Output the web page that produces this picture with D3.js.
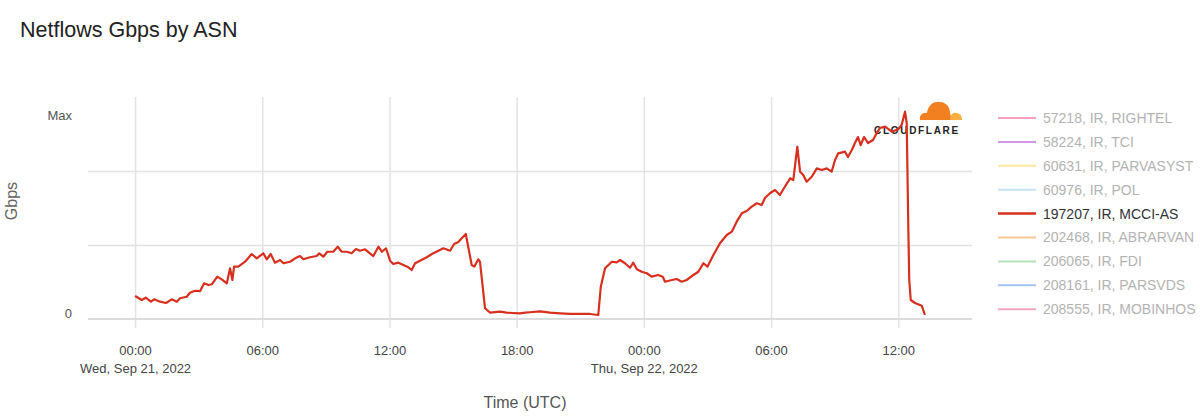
<!DOCTYPE html>
<html>
<head>
<meta charset="utf-8">
<script src="https://cdn.jsdelivr.net/npm/d3@7"></script>
<style>
  body { margin: 0; background: #fff; }
  svg { font-family: "Helvetica Neue", Helvetica, Arial, sans-serif; }
</style>
</head>
<body>
<div id="chart"></div>
<script>
// Netflows Gbps by ASN - traffic for AS197207 (MCCI) over Sep 21-22, 2022

// hours since 2022-09-21 00:00 UTC
const hours = [
  0, 0.32, 0.50, 0.75, 0.90, 1.18, 1.46, 1.73, 1.97, 2.12, 2.44, 2.59, 2.83, 3.07, 3.26, 3.46, 3.62,
  3.88, 4.09, 4.33, 4.48, 4.59, 4.67, 4.87, 5.19, 5.50, 5.74, 6.05, 6.21, 6.40, 6.60, 6.84, 7.00,
  7.31, 7.55, 7.78, 7.94, 8.25, 8.57, 8.69, 8.88, 9.07, 9.35, 9.56, 9.75, 9.99, 10.22, 10.42, 10.61,
  10.85, 11.08, 11.24, 11.48, 11.64, 11.84, 12.03, 12.18, 12.42, 12.66, 12.89, 13.05, 13.21, 13.44,
  13.76, 14.00, 14.31, 14.54, 14.86, 15.05, 15.25, 15.41, 15.60, 15.88, 16.00, 16.19, 16.27, 16.51,
  16.75, 17.22, 17.53, 18.16, 18.40, 18.63, 19.10, 19.58, 20.05, 20.52, 20.99, 21.46, 21.85, 21.97,
  22.17, 22.49, 22.72, 22.88, 23.11, 23.35, 23.50, 23.67, 23.90, 24.14, 24.37, 24.68, 24.89, 25.00,
  25.32, 25.55, 25.79, 26.02, 26.34, 26.57, 26.81, 27.00, 27.28, 27.59, 27.91, 28.15, 28.38, 28.62,
  28.85, 29.09, 29.33, 29.56, 29.72, 29.95, 30.19, 30.42, 30.58, 30.90, 31.05, 31.24, 31.37, 31.52,
  31.68, 31.92, 32.16, 32.39, 32.63, 32.86, 33.02, 33.17, 33.49, 33.63, 33.81, 33.96, 34.10, 34.23,
  34.39, 34.58, 34.81, 34.99, 35.14, 35.38, 35.70, 36.00, 36.16, 36.32, 36.40, 36.48, 36.52, 36.59,
  36.79, 37.11, 37.26
];

// Gbps (relative, axis is only labelled 0 / Max)
const gbps = [
  3.11, 2.57, 2.88, 2.34, 2.66, 2.34, 2.16, 2.66, 2.34, 2.80, 3.01, 3.55, 3.82, 3.78, 4.82, 4.59, 4.69,
  5.72, 5.36, 4.82, 6.85, 5.27, 7.07, 7.07, 7.74, 8.78, 8.20, 8.88, 8.07, 8.78, 7.61, 7.97, 7.53,
  7.74, 8.20, 8.51, 8.07, 8.34, 8.51, 8.88, 8.42, 9.09, 9.09, 9.77, 9.09, 9.09, 8.88, 9.46, 9.23,
  9.42, 8.88, 8.51, 9.77, 9.09, 9.55, 7.88, 7.43, 7.61, 7.30, 6.99, 6.62, 7.53, 7.88,
  8.34, 8.78, 9.23, 9.55, 9.23, 10.14, 10.41, 10.91, 11.49, 7.30, 7.07, 8.07, 7.74, 1.45,
  0.85, 0.99, 0.85, 0.77, 0.85, 0.91, 1.04, 0.85, 0.77, 0.68, 0.68, 0.68, 0.54, 4.36,
  6.85, 7.74, 7.66, 7.97, 7.53, 6.93, 7.61, 6.72, 6.39, 6.18, 5.72, 5.95, 5.72, 5.04,
  5.27, 5.41, 5.04, 5.27, 5.95, 6.39, 7.53, 7.07, 8.65, 10.23, 11.35, 11.80, 13.15, 14.28,
  14.59, 15.18, 15.64, 15.41, 16.39, 16.99, 17.43, 16.76, 17.53, 19.01, 18.78, 23.28, 19.91, 19.46,
  18.55, 19.23, 20.36, 20.14, 20.36, 19.91, 21.49, 22.39, 22.61, 21.89, 22.84, 23.78, 24.59, 23.51,
  24.59, 23.78, 24.19, 25.14, 25.81, 25.99, 25.31, 25.64, 26.22, 28.01, 26.49, 11.62, 5.27, 2.57,
  2.16, 1.80, 0.54
];

const asnNames = [
  "57218, IR, RIGHTEL", "58224, IR, TCI", "60631, IR, PARVASYST", "60976, IR, POL",
  "197207, IR, MCCI-AS", "202468, IR, ABRARVAN", "206065, IR, FDI", "208161, IR, PARSVDS",
  "208555, IR, MOBINHOS"
];
const asnColors = [
  "#f5a3bd", "#cf9be6", "#fde79c", "#c6e3f6", "#d7301f", "#f9c795", "#b7e1b8", "#a9c2f2", "#f4a6bf"
];
const activeAsn = "197207, IR, MCCI-AS";

const start = Date.UTC(2022, 8, 21);
const hourMs = 3600 * 1000;

// Set up dimensions
const margin = { top: 97, right: 228, bottom: 99, left: 88 },
    width = 1200 - margin.left - margin.right,
    height = 418 - margin.top - margin.bottom;

const root = d3.select("#chart")
    .append("svg")
    .attr("width", 1200)
    .attr("height", 418);

// Title
root.append("text")
    .attr("x", 20)
    .attr("y", 37)
    .style("font-size", "21.5px")
    .style("fill", "#222")
    .text("Netflows Gbps by ASN");

const svg = root.append("g")
    .attr("transform", `translate(${margin.left},${margin.top})`);

// Scales
const x = d3.scaleUtc()
    .domain([new Date(start - 2.22 * hourMs), new Date(start + 39.48 * hourMs)])
    .range([0, width]);

const y = d3.scaleLinear()
    .domain([0, 30])
    .range([height, 0]);

// Vertical grid + time labels
const xAxis = svg.append("g")
    .call(d3.axisBottom(x)
        .ticks(d3.utcHour.every(6))
        .tickSize(height + 9)
        .tickPadding(18)
        .tickFormat(d3.utcFormat("%H:%M")));
xAxis.select(".domain").remove();
xAxis.selectAll(".tick line").attr("stroke", "#e3e3e3").attr("stroke-width", 1.5);
xAxis.selectAll(".tick text")
    .style("font-size", "13px")
    .attr("fill", "#444")
    .each(function (d) {
        if (d.getUTCHours() === 0) {
            d3.select(this).append("tspan")
                .attr("x", 0)
                .attr("dy", "1.4em")
                .text(d3.utcFormat("%a, %b %d, %Y")(d));
        }
    });

// Horizontal grid
const yGrid = svg.append("g")
    .call(d3.axisLeft(y).tickValues([10, 20]).tickSize(-width).tickFormat(""));
yGrid.select(".domain").remove();
yGrid.selectAll(".tick line").attr("stroke", "#e3e3e3").attr("stroke-width", 1.5);

// Baseline
svg.append("line")
    .attr("x1", 0).attr("x2", width)
    .attr("y1", y(0)).attr("y2", y(0))
    .attr("stroke", "#dcdcdc")
    .attr("stroke-width", 2);

// Y labels: 0 and Max
const yLabels = svg.append("g")
    .call(d3.axisLeft(y).tickValues([0, 26.8]).tickSize(0).tickPadding(16)
        .tickFormat(d => d === 0 ? "0" : "Max"));
yLabels.select(".domain").remove();
yLabels.selectAll(".tick text")
    .attr("dy", "-0.1em")
    .style("font-size", "13px")
    .attr("fill", "#555");

// Axis titles
svg.append("text")
    .attr("x", -height / 2 + 7)
    .attr("y", -71)
    .attr("text-anchor", "middle")
    .attr("transform", "rotate(-90)")
    .style("font-size", "16px")
    .attr("fill", "#666")
    .text("Gbps");

svg.append("text")
    .attr("x", 437)
    .attr("y", height + 89)
    .attr("text-anchor", "middle")
    .style("font-size", "16px")
    .attr("fill", "#555")
    .text("Time (UTC)");

// Cloudflare logo (watermark, top right of plot)
const logo = svg.append("g").attr("transform", `translate(${width - 98},${4})`);
logo.append("path")
    .attr("d", "M46,19 C45,14 49,11 53,12 C54,5 59,0 66,1 C72,1 76,6 76,12 L78,19 Z")
    .attr("fill", "#f38020");
logo.append("path")
    .attr("d", "M76,19 C76,14 79,11 82,12 C86,12 88,15 88,19 Z")
    .attr("fill", "#fbad41");
logo.append("text")
    .attr("x", 0)
    .attr("y", 33)
    .style("font-size", "10px")
    .style("font-weight", "bold")
    .style("letter-spacing", "1.7px")
    .attr("fill", "#222")
    .text("CLOUDFLARE");

// Line
const points = hours.map((h, i) => ({ t: new Date(start + h * hourMs), v: gbps[i] }));
svg.append("path")
    .datum(points)
    .attr("fill", "none")
    .attr("stroke", "#d7301f")
    .attr("stroke-width", 2.2)
    .attr("stroke-linejoin", "round")
    .attr("d", d3.line().x(d => x(d.t)).y(d => y(d.v)));

// Legend
const legend = root.append("g").attr("transform", "translate(998,118)");
const item = legend.selectAll("g")
    .data(asnNames)
    .enter()
    .append("g")
    .attr("transform", (d, i) => `translate(0,${i * 23.9})`);
item.append("line")
    .attr("x1", 0).attr("x2", 38)
    .attr("stroke", (d, i) => asnColors[i])
    .attr("stroke-width", d => d === activeAsn ? 2.5 : 2);
item.append("text")
    .attr("x", 45)
    .attr("dy", "0.35em")
    .style("font-size", "14px")
    .attr("fill", d => d === activeAsn ? "#333" : "#b3b3b3")
    .text(d => d);
</script>
</body>
</html>
